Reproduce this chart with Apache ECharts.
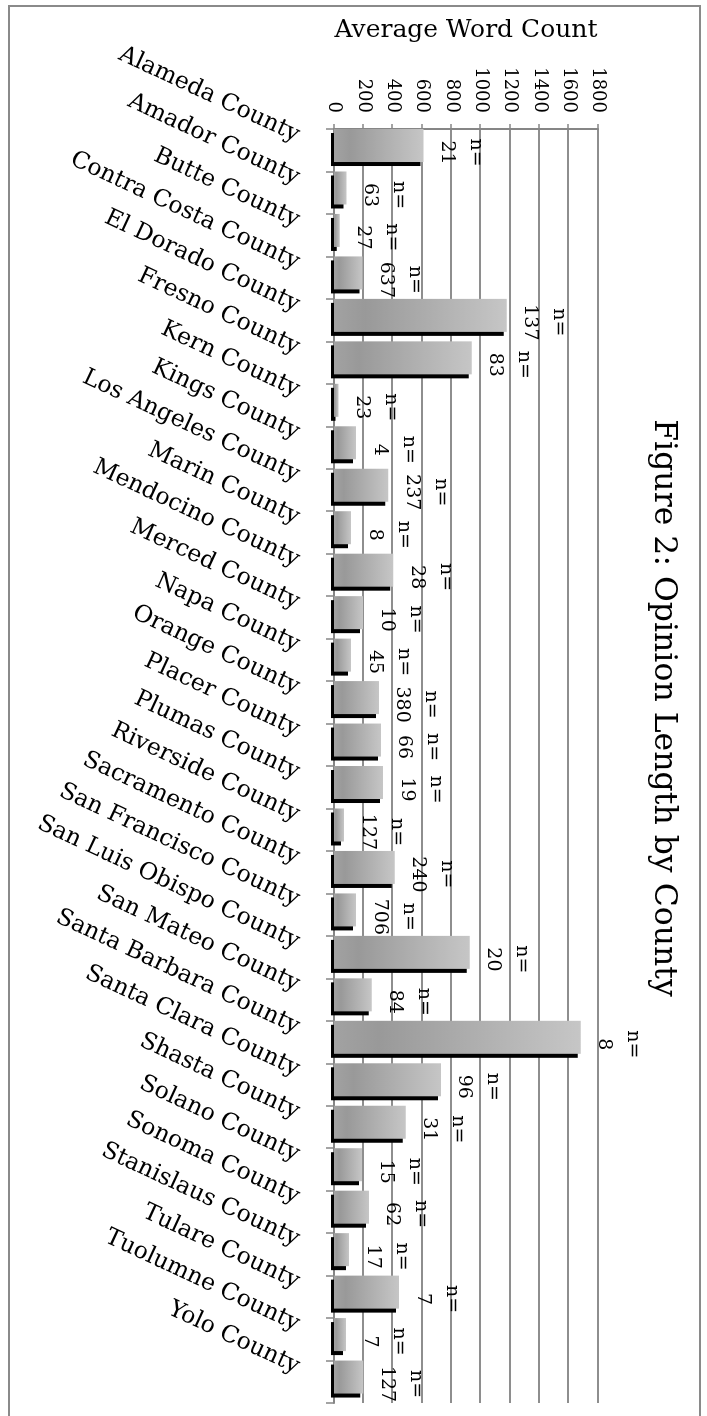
<!DOCTYPE html>
<html>
<head>
<meta charset="utf-8">
<script src="https://cdn.jsdelivr.net/npm/echarts@6/dist/echarts.min.js"></script>
<style>
  html, body { margin: 0; padding: 0; background: #fff; width: 707px; height: 1416px; overflow: hidden; }
  /* The chart is laid out as a landscape column chart, then turned a quarter clockwise onto the portrait page */
  #chart { position: absolute; left: 0; top: 0; width: 1416px; height: 707px;
           transform-origin: 0 0; transform: translate(707px, 0) rotate(90deg); }
</style>
</head>
<body>
<div id="chart"></div>
<script>
// Counties (category axis)
const counties = [
  'Alameda County', 'Amador County', 'Butte County', 'Contra Costa County', 'El Dorado County',
  'Fresno County', 'Kern County', 'Kings County', 'Los Angeles County', 'Marin County',
  'Mendocino County', 'Merced County', 'Napa County', 'Orange County', 'Placer County',
  'Plumas County', 'Riverside County', 'Sacramento County', 'San Francisco County', 'San Luis Obispo County',
  'San Mateo County', 'Santa Barbara County', 'Santa Clara County', 'Shasta County', 'Solano County',
  'Sonoma County', 'Stanislaus County', 'Tulare County', 'Tuolumne County', 'Yolo County'
];

// Average opinion length in words
const avgWords = [
  610, 85, 40, 195, 1178,
  940, 30, 150, 370, 116,
  404, 198, 116, 306, 320,
  334, 68, 415, 150, 926,
  257, 1682, 729, 490, 191,
  238, 102, 443, 82, 200
];

// Number of opinions behind each average
const sampleSizes = [
  21, 63, 27, 637, 137,
  83, 23, 4, 237, 8,
  28, 10, 45, 380, 66,
  19, 127, 240, 706, 20,
  84, 8, 96, 31, 15,
  62, 17, 7, 7, 127
];

// Value axis ticks
const valueTicks = [0, 200, 400, 600, 800, 1000, 1200, 1400, 1600, 1800];

const FONT = 'DejaVu Serif';
const AXIS_GRAY = '#868686';

const chart = echarts.init(document.getElementById('chart'), null, {
  renderer: 'canvas', width: 1416, height: 707
});

chart.setOption({
  backgroundColor: '#ffffff',
  animation: false,
  title: {
    text: 'Figure 2: Opinion Length by County',
    left: 'center',
    top: 23,
    textStyle: { fontFamily: FONT, fontSize: 31.5, fontWeight: 'normal', color: '#000' }
  },
  graphic: [{
    type: 'rect',
    shape: { x: 6, y: 7, width: 1430, height: 691 },
    style: { fill: 'none', stroke: '#8a8a8a', lineWidth: 2 },
    silent: true
  }],
  grid: { left: 129, right: 13, top: 109, bottom: 334, outerBoundsMode: 'none', containLabel: false },
  xAxis: {
    type: 'category',
    data: counties,
    position: 'bottom',
    axisLine: { show: true, lineStyle: { color: AXIS_GRAY, width: 2 } },
    axisTick: { show: true, length: 8, alignWithLabel: false, lineStyle: { color: AXIS_GRAY, width: 1.5 } },
    axisLabel: {
      interval: 0, rotate: 65, margin: 6,
      fontFamily: FONT, fontSize: 23.5, color: '#000',
      padding: [0, 33, 5, 0]
    },
    splitLine: { show: false }
  },
  yAxis: {
    type: 'value',
    min: valueTicks[0],
    max: valueTicks[valueTicks.length - 1],
    interval: valueTicks[1] - valueTicks[0],
    name: 'Average Word Count',
    nameLocation: 'middle',
    nameRotate: 90,
    nameGap: 86,
    nameTextStyle: { fontFamily: FONT, fontSize: 25, color: '#000' },
    axisLine: { show: true, lineStyle: { color: AXIS_GRAY, width: 2 } },
    axisTick: { show: true, length: 5, lineStyle: { color: AXIS_GRAY, width: 1.5 } },
    axisLabel: {
      margin: 16, fontFamily: FONT, fontSize: 18, color: '#000',
      formatter: v => String(v)
    },
    splitLine: { show: true, lineStyle: { color: '#8e8e8e', width: 2 } }
  },
  series: [
    {
      name: 'Average Word Count',
      type: 'bar',
      data: avgWords,
      barWidth: 33,
      barGap: 0,
      itemStyle: {
        color: new echarts.graphic.LinearGradient(0, 1, 0, 0, [
          { offset: 0, color: '#a2a2a2' },
          { offset: 0.18, color: '#999999' },
          { offset: 1, color: '#c6c6c6' }
        ]),
        shadowColor: '#000000',
        shadowBlur: 0,
        shadowOffsetX: 4,
        shadowOffsetY: 3
      },
      label: {
        show: true,
        position: 'top',
        distance: 9,
        offset: [7, 0],
        formatter: p => 'n=\n' + sampleSizes[p.dataIndex],
        fontFamily: FONT,
        fontSize: 19,
        lineHeight: 29,
        align: 'center',
        color: '#000'
      },
      emphasis: { disabled: true },
      silent: true
    },
    {
      // empty neighbour in each group so the bars sit at the start of their band
      name: 'spacer',
      type: 'bar',
      data: [],
      barWidth: 9.43,
      barGap: 0,
      silent: true
    }
  ]
});
</script>
</body>
</html>
